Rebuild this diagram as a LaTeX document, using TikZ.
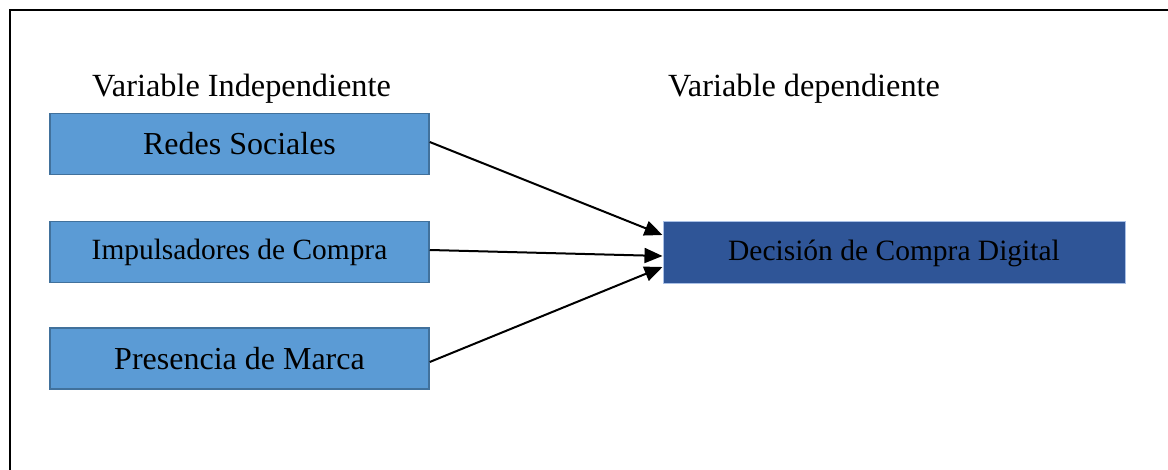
\documentclass[tikz,border=0pt]{standalone}
\usepackage{fontspec}
\setmainfont{Liberation Serif}
\usetikzlibrary{arrows.meta}
\definecolor{boxblue}{HTML}{5B9BD5}
\definecolor{boxedge}{HTML}{41719C}
\definecolor{darkblue}{HTML}{2F5597}
\definecolor{darkedge}{HTML}{A9C0E6}
\begin{document}
\begin{tikzpicture}[x=1pt,y=-1pt,
  indbox/.style={rectangle, fill=boxblue, draw=boxedge, line width=1.5pt,
    minimum width=379pt, minimum height=61pt, inner sep=0pt,
    font=\fontsize{32}{38}\selectfont},
  depbox/.style={rectangle, fill=darkblue, draw=darkedge, line width=1pt,
    minimum width=462pt, minimum height=62pt, inner sep=0pt,
    font=\fontsize{29.5}{35}\selectfont},
  heading/.style={anchor=base west, inner sep=0pt, font=\fontsize{32.3}{38}\selectfont},
  conn/.style={line width=2pt, -{Triangle[length=18pt,width=15pt]}}]
\useasboundingbox (0,0) rectangle (1168,470);
\fill[white] (0,0) rectangle (1168,470);
% frame
\draw[line width=2.8pt] (10,471) -- (10,10) -- (1169,10);
% headings
\node[heading] (hind) at (92,97) {Variable Independiente};
\node[heading] (hdep) at (668,97) {Variable dependiente};
% boxes
\node[indbox] (redes) at (239.5,144) {Redes Sociales};
\node[indbox, font=\fontsize{29.4}{35}\selectfont] (impul) at (239.5,252) {Impulsadores de Compra};
\node[indbox] (pres) at (239.5,358.5) {Presencia de Marca};
\node[depbox] (dec) at (894,253) {Decisión de Compra Digital};
% connectors
\draw[conn] ([yshift=2pt]redes.east) -- ([yshift=18pt]dec.west);
\draw[conn] ([yshift=2pt]impul.east) -- ([yshift=-3pt]dec.west);
\draw[conn] ([yshift=-3.5pt]pres.east) -- ([yshift=-14pt]dec.west);
\end{tikzpicture}
\end{document}
